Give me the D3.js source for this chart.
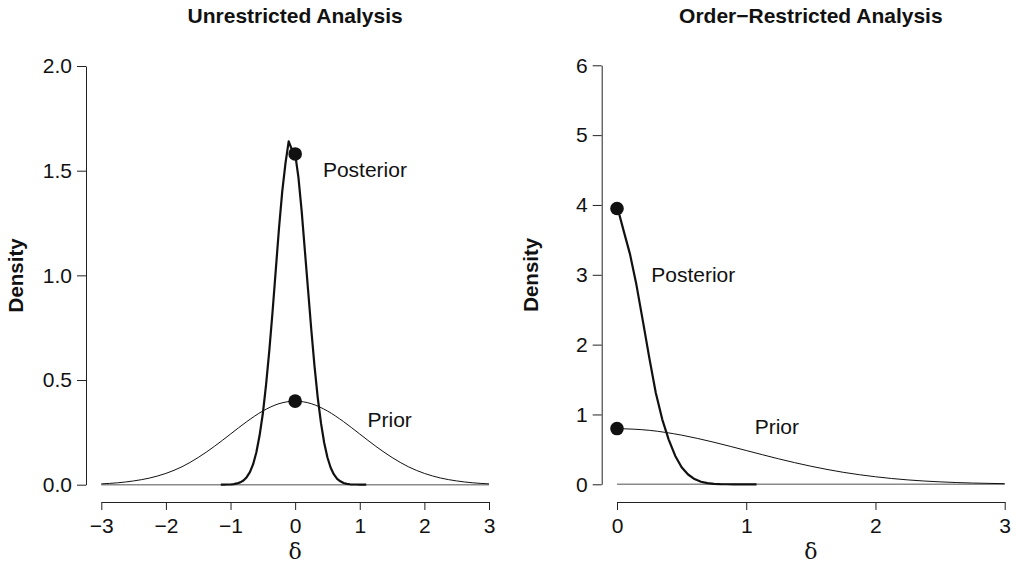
<!DOCTYPE html>
<html>
<head>
<meta charset="utf-8">
<script src="https://cdn.jsdelivr.net/npm/d3@7/dist/d3.min.js"></script>
<style>
  html, body { margin: 0; padding: 0; background: #fff; }
  svg { display: block; }
  .tick text { font-family: "Liberation Sans", Arial, sans-serif; font-size: 21px; fill: #111; }
  .domain, .tick line { stroke: #222; stroke-width: 1; }
</style>
</head>
<body>
<svg id="chart" width="1016" height="565"></svg>
<script>
// ---- Unrestricted analysis: prior N(0,1) and posterior density of delta ----
const leftPriorX = [-3, -2.75, -2.5, -2.25, -2, -1.75, -1.5, -1.25, -1, -0.75, -0.5, -0.25, 0,
                    0.25, 0.5, 0.75, 1, 1.25, 1.5, 1.75, 2, 2.25, 2.5, 2.75, 3];
const leftPriorY = [0.004, 0.009, 0.018, 0.032, 0.054, 0.086, 0.130, 0.183, 0.242, 0.301, 0.352, 0.387, 0.399,
                    0.387, 0.352, 0.301, 0.242, 0.183, 0.130, 0.086, 0.054, 0.032, 0.018, 0.009, 0.004];

const leftPostX = [-1.15, -1.10, -1.05, -1.00, -0.95, -0.90, -0.85, -0.80, -0.75, -0.70, -0.65, -0.60,
                   -0.55, -0.50, -0.45, -0.40, -0.35, -0.30, -0.25, -0.20, -0.15, -0.10, -0.05, 0.00,
                   0.05, 0.10, 0.15, 0.20, 0.25, 0.30, 0.35, 0.40, 0.45, 0.50, 0.55, 0.60,
                   0.65, 0.70, 0.75, 0.80, 0.85, 0.90, 0.95, 1.00, 1.05, 1.10];
const leftPostY = [0.000, 0.000, 0.001, 0.001, 0.003, 0.006, 0.011, 0.020, 0.036, 0.060, 0.098, 0.155,
                   0.236, 0.340, 0.478, 0.640, 0.825, 1.025, 1.225, 1.400, 1.535, 1.640, 1.600, 1.580,
                   1.470, 1.310, 1.120, 0.930, 0.740, 0.565, 0.415, 0.294, 0.199, 0.130, 0.081, 0.049,
                   0.028, 0.016, 0.008, 0.004, 0.002, 0.001, 0.001, 0.000, 0.000, 0.000];

// Density values at delta = 0 (Savage–Dickey points)
const leftPointX = [0, 0];
const leftPointY = [1.58, 0.399];

// ---- Order-restricted analysis: half-normal prior and truncated posterior ----
const rightPriorX = [0, 0.25, 0.5, 0.75, 1, 1.25, 1.5, 1.75, 2, 2.25, 2.5, 2.75, 3];
const rightPriorY = [0.798, 0.773, 0.704, 0.602, 0.484, 0.365, 0.259, 0.172, 0.108, 0.063, 0.035, 0.018, 0.009];

const rightPostX = [0.00, 0.02, 0.05, 0.10, 0.15, 0.20, 0.25, 0.30, 0.35, 0.40, 0.45, 0.50, 0.55,
                    0.60, 0.65, 0.70, 0.75, 0.80, 0.85, 0.90, 0.95, 1.00, 1.05, 1.08];
const rightPostY = [3.95, 3.85, 3.64, 3.30, 2.86, 2.34, 1.81, 1.31, 0.93, 0.64, 0.41, 0.245, 0.140,
                    0.075, 0.036, 0.016, 0.006, 0.002, 0.001, 0.000, 0.000, 0.000, 0.000, 0.000];

const rightPointX = [0, 0];
const rightPointY = [3.95, 0.798];

// Tick values
const leftXTicks = [-3, -2, -1, 0, 1, 2, 3];
const leftYTicks = [0, 0.5, 1, 1.5, 2];
const rightXTicks = [0, 1, 2, 3];
const rightYTicks = [0, 1, 2, 3, 4, 5, 6];

const titles = ["Unrestricted Analysis", "Order\u2212Restricted Analysis"];
const curveLabels = ["Posterior", "Prior"];

const svg = d3.select("#chart");
const sans = '"Liberation Sans", Arial, sans-serif';

function panel(cfg) {
  const x = d3.scaleLinear().domain(cfg.xDomain).range(cfg.xRange);
  const y = d3.scaleLinear().domain(cfg.yDomain).range(cfg.yRange);
  const g = svg.append("g");

  // title
  g.append("text")
    .attr("x", (cfg.xRange[0] + cfg.xRange[1]) / 2)
    .attr("y", 23)
    .attr("text-anchor", "middle")
    .style("font-family", sans).style("font-weight", "bold").style("font-size", "21px")
    .style("fill", "#111")
    .text(cfg.title);

  // axes
  g.append("g")
    .attr("transform", `translate(${cfg.yAxisX},0)`)
    .call(d3.axisLeft(y).tickValues(cfg.yTicks).tickFormat(cfg.yFormat).tickSize(9).tickSizeOuter(0).tickPadding(5));
  g.append("g")
    .attr("transform", `translate(0,${cfg.xAxisY})`)
    .call(d3.axisBottom(x).tickValues(cfg.xTicks).tickFormat(d3.format("d")).tickSize(8).tickSizeOuter(0).tickPadding(8));

  // axis titles
  g.append("text")
    .attr("transform", `translate(${cfg.yLabelX},${(cfg.yRange[0] + cfg.yRange[1]) / 2}) rotate(-90)`)
    .attr("text-anchor", "middle")
    .attr("dy", "0.35em")
    .style("font-family", sans).style("font-weight", "bold").style("font-size", "20.5px")
    .style("fill", "#111")
    .text("Density");
  g.append("text")
    .attr("x", (cfg.xRange[0] + cfg.xRange[1]) / 2)
    .attr("y", 559)
    .attr("text-anchor", "middle")
    .style("font-family", '"DejaVu Serif", "Liberation Serif", serif').style("font-size", "22px")
    .style("fill", "#111")
    .text("\u03B4");

  // zero baseline across the full x range
  g.append("line")
    .attr("x1", x(cfg.xDomain[0])).attr("x2", x(cfg.xDomain[1]))
    .attr("y1", y(0)).attr("y2", y(0))
    .attr("stroke", "#8a8a8a").attr("stroke-width", 1.6);

  // prior (thin)
  const priorLine = d3.line().x(d => x(d[0])).y(d => y(d[1])).curve(d3.curveMonotoneX);
  g.append("path")
    .datum(d3.zip(cfg.priorX, cfg.priorY))
    .attr("d", priorLine)
    .attr("fill", "none").attr("stroke", "#111").attr("stroke-width", 1);

  // posterior (thick)
  const postLine = d3.line().x(d => x(d[0])).y(d => y(d[1])).curve(d3.curveLinear);
  g.append("path")
    .datum(d3.zip(cfg.postX, cfg.postY))
    .attr("d", postLine)
    .attr("fill", "none").attr("stroke", "#111").attr("stroke-width", 2.2)
    .attr("stroke-linejoin", "round");

  // density points at delta = 0
  g.selectAll("circle.pt")
    .data(d3.zip(cfg.pointX, cfg.pointY))
    .join("circle")
    .attr("class", "pt")
    .attr("cx", d => x(d[0])).attr("cy", d => y(d[1]))
    .attr("r", 6.8)
    .attr("fill", "#111");

  // curve labels
  g.selectAll("text.lbl")
    .data(cfg.labels)
    .join("text")
    .attr("class", "lbl")
    .attr("x", d => x(d.x)).attr("y", d => y(d.y))
    .style("font-family", sans).style("font-size", "21px").style("fill", "#111")
    .text(d => d.text);
}

panel({
  title: titles[0],
  xDomain: [-3, 3], xRange: [101.3, 489],
  yDomain: [0, 2], yRange: [484.7, 66],
  yAxisX: 86, xAxisY: 502, yLabelX: 16,
  xTicks: leftXTicks, yTicks: leftYTicks, yFormat: d3.format(".1f"),
  priorX: leftPriorX, priorY: leftPriorY,
  postX: leftPostX, postY: leftPostY,
  pointX: leftPointX, pointY: leftPointY,
  labels: [{ text: curveLabels[0], x: 0.43, y: 1.47 }, { text: curveLabels[1], x: 1.12, y: 0.276 }]
});

panel({
  title: titles[1],
  xDomain: [0, 3], xRange: [617, 1004.7],
  yDomain: [0, 6], yRange: [484.3, 65.3],
  yAxisX: 601.7, xAxisY: 502, yLabelX: 531,
  xTicks: rightXTicks, yTicks: rightYTicks, yFormat: d3.format("d"),
  priorX: rightPriorX, priorY: rightPriorY,
  postX: rightPostX, postY: rightPostY,
  pointX: rightPointX, pointY: rightPointY,
  labels: [{ text: curveLabels[0], x: 0.265, y: 2.90 }, { text: curveLabels[1], x: 1.065, y: 0.72 }]
});
</script>
</body>
</html>
